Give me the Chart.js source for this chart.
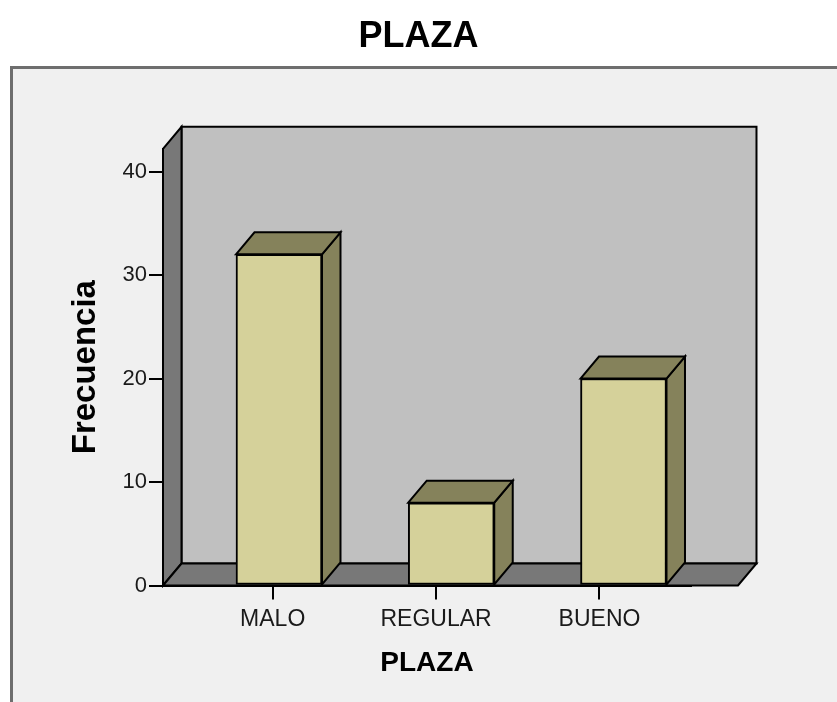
<!DOCTYPE html>
<html>
<head>
<meta charset="utf-8">
<script src="https://cdn.jsdelivr.net/npm/chart.js@4.4.1/dist/chart.umd.min.js"></script>
<style>
  html, body { margin: 0; padding: 0; background: #ffffff; }
  #c { display: block; }
</style>
</head>
<body>
<canvas id="c" width="837" height="702"></canvas>
<script>
// Frequency of each rating for PLAZA
const categories = ['MALO', 'REGULAR', 'BUENO'];
const frecuencias = [32, 8, 20];
const yTicks = [0, 10, 20, 30, 40];

const SANS = "'Liberation Sans', Arial, sans-serif";

// 3D depth of the box (pixels, towards the back)
const DX = 18.5, DY = -22;
// x value (bar scale) where the floor ends on the right
const FLOOR_END = 3.6647;

function poly(ctx, pts, fill) {
  ctx.beginPath();
  ctx.moveTo(pts[0][0], pts[0][1]);
  for (let i = 1; i < pts.length; i++) ctx.lineTo(pts[i][0], pts[i][1]);
  ctx.closePath();
  ctx.fillStyle = fill;
  ctx.fill();
  ctx.stroke();
}

// Draws the page background, the framed panel and the 3D walls/floor,
// then the side and top faces of every bar.
const box3d = {
  id: 'box3d',
  beforeDraw(chart) {
    const { ctx, chartArea, scales } = chart;
    const W = chart.width, H = chart.height;
    ctx.save();
    ctx.fillStyle = '#ffffff';
    ctx.fillRect(0, 0, W, H);
    ctx.fillStyle = '#f0f0f0';
    ctx.fillRect(11.5, 67.5, W, H);
    ctx.strokeStyle = '#6e6e6e';
    ctx.lineWidth = 3;
    ctx.beginPath();
    ctx.moveTo(11.5, H + 5);
    ctx.lineTo(11.5, 67.5);
    ctx.lineTo(W + 5, 67.5);
    ctx.stroke();

    const L = chartArea.left;
    const T = chartArea.top;
    const B = scales.y.getPixelForValue(0);
    const R = scales.x.getPixelForValue(FLOOR_END);
    ctx.lineWidth = 2;
    ctx.strokeStyle = '#000000';
    ctx.lineJoin = 'miter';
    poly(ctx, [[L + DX, T + DY], [R + DX, T + DY], [R + DX, B + DY], [L + DX, B + DY]], '#c0c0c0');
    poly(ctx, [[L, T], [L + DX, T + DY], [L + DX, B + DY], [L, B]], '#787878');
    poly(ctx, [[L, B], [L + DX, B + DY], [R + DX, B + DY], [R, B]], '#787878');
    ctx.restore();
  },
  beforeDatasetsDraw(chart) {
    const { ctx } = chart;
    ctx.save();
    ctx.lineWidth = 2;
    ctx.strokeStyle = '#000000';
    ctx.lineJoin = 'miter';
    chart.getDatasetMeta(0).data.forEach(bar => {
      const { x, y, base, width } = bar.getProps(['x', 'y', 'base', 'width'], true);
      const x0 = x - width / 2, x1 = x + width / 2;
      poly(ctx, [[x1, y], [x1 + DX, y + DY], [x1 + DX, base + DY], [x1, base]], '#85825b');
      poly(ctx, [[x0, y], [x0 + DX, y + DY], [x1 + DX, y + DY], [x1, y]], '#85825b');
    });
    ctx.restore();
  }
};

new Chart(document.getElementById('c'), {
  type: 'bar',
  data: {
    datasets: [{
      label: 'Frecuencia',
      data: categories.map((c, i) => ({ x: i + 1, y: frecuencias[i] })),
      xAxisID: 'x',
      yAxisID: 'y',
      barThickness: 86,
      backgroundColor: '#d5d19a',
      borderColor: '#000000',
      borderWidth: 2,
      borderSkipped: false
    }]
  },
  options: {
    responsive: false,
    animation: false,
    layout: { padding: 0 },
    plugins: {
      legend: { display: false },
      tooltip: { enabled: false },
      title: {
        display: true,
        text: 'PLAZA',
        color: '#000000',
        font: { family: SANS, weight: 'bold', size: 36, lineHeight: 1.2 },
        padding: { top: 15, bottom: 90.6 }
      }
    },
    scales: {
      x: {
        type: 'linear',
        display: false,
        offset: false,
        grid: { offset: false },
        min: 0.3266,
        max: 3.3919
      },
      x2: {
        type: 'linear',
        position: 'bottom',
        offset: false,
        min: 0.3286,
        max: 3.56,
        afterBuildTicks: s => { s.ticks = categories.map((c, i) => ({ value: i + 1 })); },
        afterFit: s => { s.height = 116.5; },
        grid: { offset: false, drawOnChartArea: false, drawTicks: true, tickLength: 14, color: '#000000', lineWidth: 2 },
        border: { display: true, color: '#000000', width: 2 },
        ticks: {
          autoSkip: false,
          maxRotation: 0,
          padding: 6,
          color: '#1a1a1a',
          font: { family: SANS, size: 23 },
          callback: v => categories[v - 1]
        },
        title: {
          display: true,
          text: 'PLAZA',
          color: '#000000',
          font: { family: SANS, weight: 'bold', size: 28, lineHeight: 1.2 },
          padding: { top: 0, bottom: 22 }
        }
      },
      y: {
        min: 0,
        max: 42.2,
        afterBuildTicks: s => { s.ticks = yTicks.map(v => ({ value: v })); },
        afterFit: s => { s.width = 163; },
        grid: { drawOnChartArea: false, drawTicks: true, tickLength: 14, color: '#000000', lineWidth: 2 },
        border: { display: true, color: '#000000', width: 2 },
        ticks: {
          padding: 2,
          color: '#1a1a1a',
          font: { family: SANS, size: 22 }
        },
        title: {
          display: true,
          text: 'Frecuencia',
          color: '#000000',
          font: { family: SANS, weight: 'bold', size: 33, lineHeight: 1.2 },
          padding: { top: 66, bottom: 0 }
        }
      },
      // empty right-hand axis that reserves the space right of the floor
      yRight: {
        position: 'right',
        display: true,
        afterFit: s => { s.width = 146; },
        grid: { display: false, drawTicks: false },
        border: { display: false },
        ticks: { display: false },
        title: { display: false }
      }
    }
  },
  plugins: [box3d]
});
</script>
</body>
</html>
